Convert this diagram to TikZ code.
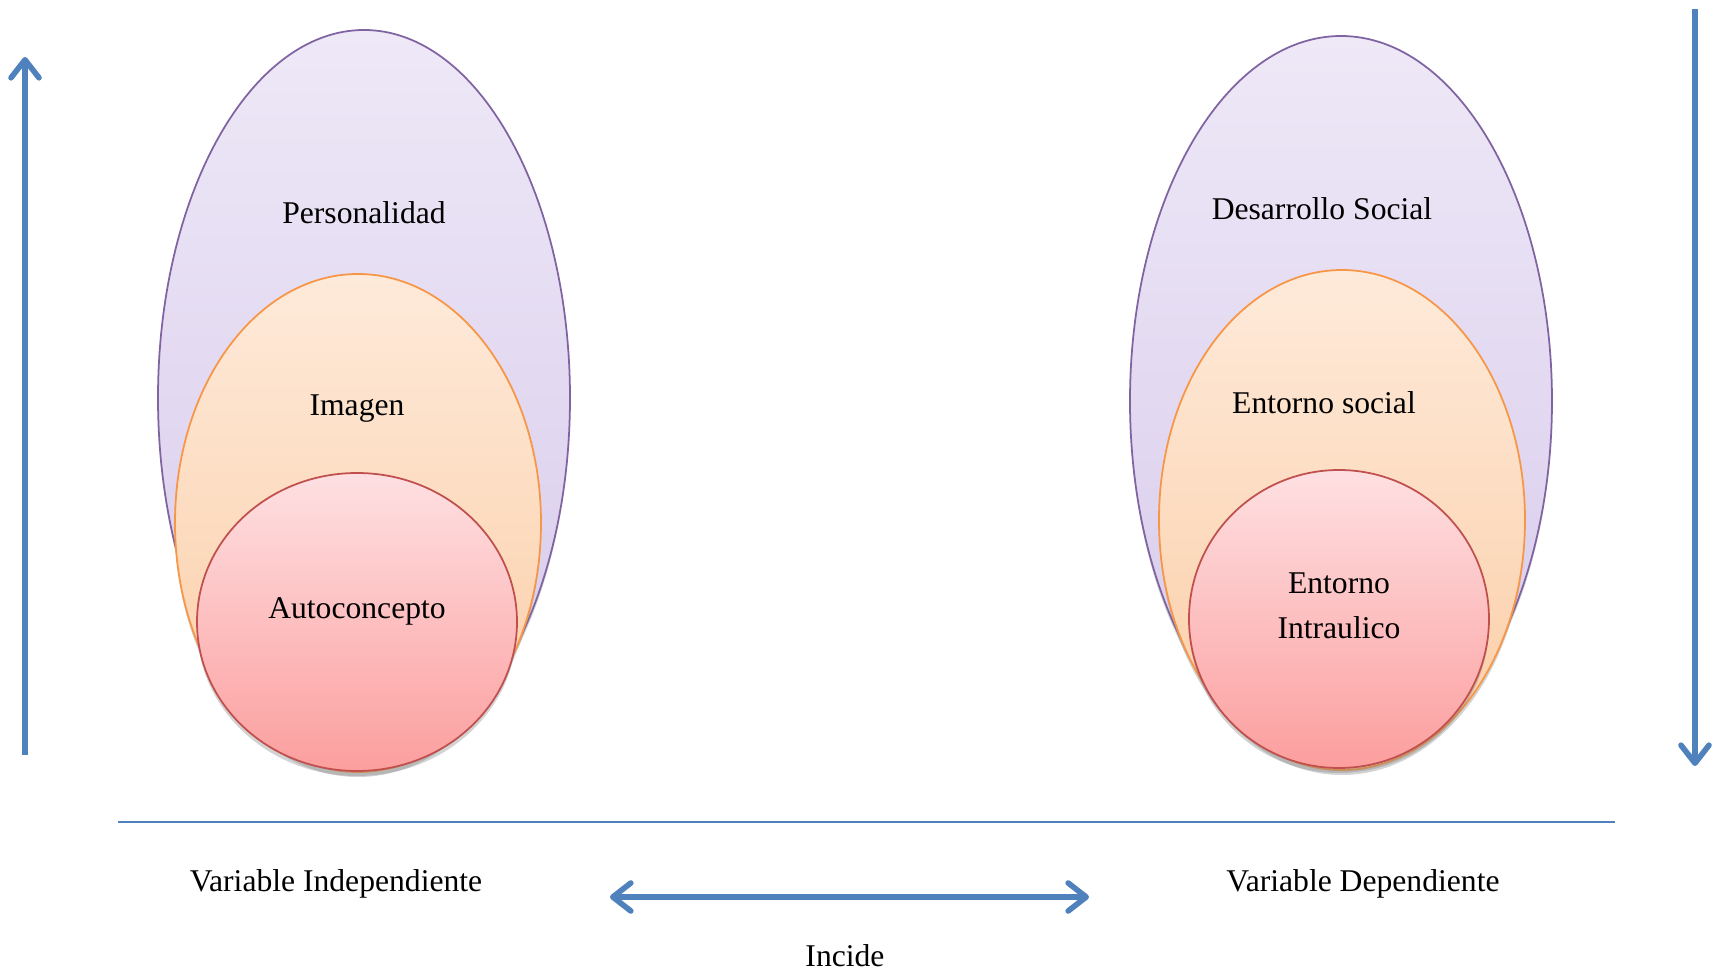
\documentclass[tikz,border=0pt]{standalone}
\usepackage{fontspec}
\setmainfont{Liberation Serif}
\usetikzlibrary{positioning,arrows.meta,shapes.geometric,shadows}
\definecolor{arrowblue}{HTML}{4F81BD}
\definecolor{purpleline}{HTML}{8064A2}
\definecolor{orangeline}{HTML}{F79646}
\definecolor{redline}{HTML}{C0504D}
\begin{document}
\begin{tikzpicture}[
  oval/.style = {
    shape=ellipse, draw, line width=0.5pt, inner sep=0pt,
    drop shadow={shadow xshift=0pt, shadow yshift=-0.5mm, opacity=0.35},
  },
  purple oval/.style = {oval, draw=purpleline,
    top color={rgb,255:red,238;green,232;blue,247}, bottom color={rgb,255:red,215;green,202;blue,235}},
  orange oval/.style = {oval, draw=orangeline,
    top color={rgb,255:red,254;green,234;blue,218}, bottom color={rgb,255:red,251;green,205;blue,165}},
  red oval/.style = {oval, draw=redline,
    top color={rgb,255:red,254;green,224;blue,226}, bottom color={rgb,255:red,252;green,158;blue,158}},
  caption/.style = {font=\fontsize{9}{12.8}\selectfont, inner sep=1pt, align=center},
  blue arrow/.style = {draw=arrowblue, line width=1.6pt,
    -{Straight Barb[length=1.8mm,width=2.8mm,round]}},
]
  \useasboundingbox (0,0) rectangle (17.16,9.72);

  \node[name=pers, purple oval, minimum width=4.12cm, minimum height=7.36cm] at (3.64,5.74) {};
  \node[name=imag, orange oval, minimum width=3.66cm, minimum height=4.98cm] at (3.58,4.49) {};
  \node[name=auto, red oval,    minimum width=3.20cm, minimum height=2.98cm] at (3.57,3.50) {};

  \node[name=desa, purple oval, minimum width=4.22cm, minimum height=7.30cm] at (13.41,5.71) {};
  \node[name=ento, orange oval, minimum width=3.66cm, minimum height=5.00cm] at (13.42,4.52) {};
  \node[name=intr, red oval,    minimum width=3.00cm, minimum height=2.98cm] at (13.39,3.53) {};

  \node[name=pers text, caption] at (3.64,7.59) {Personalidad};
  \node[name=imag text, caption] at (3.57,5.63) {Imagen};
  \node[name=auto text, caption] at (3.57,3.61) {Autoconcepto};
  \node[name=desa text, caption] at (13.22,7.63) {Desarrollo Social};
  \node[name=ento text, caption] at (13.24,5.69) {Entorno social};
  \node[name=intr text, caption] at (13.39,3.66) {Entorno\\Intraulico};

  \node[name=indep, caption] at (3.36,0.88) {Variable Independiente};
  \node[name=dep,   caption] at (13.63,0.88) {Variable Dependiente};
  \node[name=incide, caption] at (8.45,0.16) {Incide};

  \coordinate (up start) at (0.25,2.17);
  \coordinate (up end) at (0.25,9.15);
  \coordinate (down start) at (16.95,9.63);
  \coordinate (down end) at (16.95,2.06);
  \coordinate (rule left) at (1.18,1.50);
  \coordinate (rule right) at (16.15,1.50);
  \coordinate (incide left) at (6.10,0.75);
  \coordinate (incide right) at (10.89,0.75);

  \draw[blue arrow] (up start) -- (up end);
  \draw[blue arrow] (down start) -- (down end);
  \draw[arrowblue, line width=0.6pt] (rule left) -- (rule right);
  \draw[blue arrow, {Straight Barb[length=1.8mm,width=2.8mm,round]}-{Straight Barb[length=1.8mm,width=2.8mm,round]},
    drop shadow={shadow xshift=0pt, shadow yshift=-0.4mm, opacity=0.3}] (incide left) -- (incide right);
\end{tikzpicture}
\end{document}
